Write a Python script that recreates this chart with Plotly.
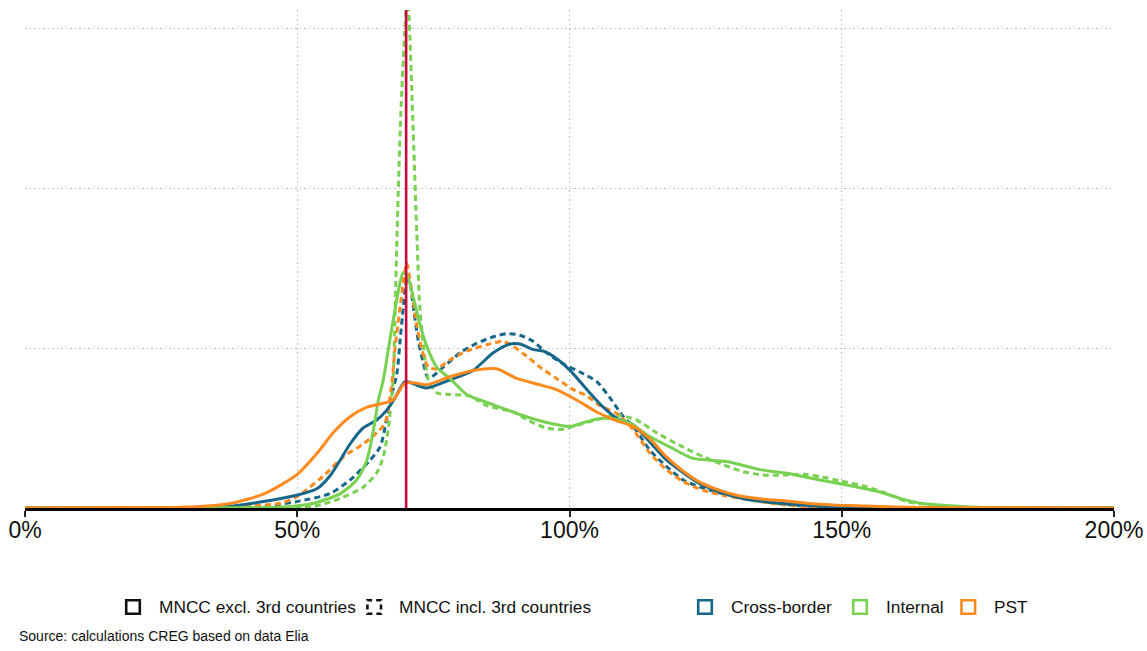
import plotly.graph_objects as go

# ---------------- data (x in %, y = density, arbitrary units) ----------------
cb_excl_x = [0, 30, 37.6, 43.8, 49.9, 53.6, 56, 57.9, 59.7, 62.1, 64.6, 66.4, 68, 69.8, 72.5, 73.8, 78, 82.3, 86, 89.1,
             90.9, 93.4, 95.2, 97.6, 100.1, 103.2, 106.2, 108.7, 111.7, 114.8, 117.8, 120.9, 124, 127.6, 132.5, 137.4,
             142.3, 148, 160, 200]
cb_excl_y = [0, 0.003, 0.01, 0.04, 0.08, 0.12, 0.2, 0.3, 0.40, 0.50, 0.55, 0.61, 0.69, 0.79, 0.76, 0.75, 0.80, 0.86, 0.97,
             1.025, 1.025, 0.99, 0.98, 0.935, 0.86, 0.74, 0.63, 0.56, 0.52, 0.41, 0.30, 0.22, 0.15, 0.10, 0.055, 0.035,
             0.02, 0.008, 0.002, 0]

int_excl_x = [0, 40, 48.7, 53, 57.9, 60.9, 62.8, 64, 64.9, 65.8, 67, 68.6, 69.4, 70.2, 71.3, 72.5, 73.8, 75.6, 78, 81.1,
              83.6, 87.2, 92.1, 96.4, 100.1, 103.2, 105.6, 108.7, 111.1, 114.8, 118.5, 122.7, 128.9, 135, 139.9, 146,
              150.9, 157, 160.7, 164.4, 168, 175, 200]
int_excl_y = [0, 0.001, 0.01, 0.03, 0.09, 0.175, 0.3, 0.49, 0.675, 0.8, 1.05, 1.36, 1.47, 1.45, 1.32, 1.15, 1.01, 0.88,
              0.81, 0.71, 0.675, 0.63, 0.57, 0.53, 0.51, 0.54, 0.56, 0.555, 0.53, 0.445, 0.38, 0.31, 0.29, 0.24, 0.217,
              0.175, 0.144, 0.10, 0.06, 0.03, 0.019, 0.005, 0]

pst_excl_x = [0, 25, 32, 38, 44, 50, 53.6, 56.6, 59.7, 62.8, 65.2, 67.6, 69.8, 72, 73.8, 78, 82.3, 86.6, 90.3, 94.6,
              97.6, 101.3, 105, 108.7, 111.7, 114.8, 117.8, 120.9, 124, 127.6, 131.3, 136.2, 139.9, 143.6, 148.4,
              154.6, 160, 168, 200]
pst_excl_y = [0, 0.003, 0.01, 0.03, 0.09, 0.21, 0.34, 0.47, 0.57, 0.63, 0.65, 0.675, 0.78, 0.78, 0.77, 0.82, 0.86, 0.87,
              0.81, 0.77, 0.74, 0.675, 0.60, 0.545, 0.51, 0.43, 0.32, 0.23, 0.16, 0.11, 0.075, 0.053, 0.044, 0.03,
              0.019, 0.012, 0.006, 0.002, 0]

cb_incl_x = [0, 35, 43.8, 49.9, 56, 59.7, 63.4, 65.2, 66.1, 67, 68.3, 68.9, 69.5, 70.1, 70.7, 71.3, 72.2, 73.2, 74.1,
             76.8, 79.9, 83, 86, 88.5, 90.9, 93.4, 95.8, 98.9, 101.9, 105, 107.4, 109.9, 111.7, 114.8, 117.8, 120.9,
             124, 127, 130.7, 135.6, 140.5, 148, 200]
cb_incl_y = [0, 0.002, 0.01, 0.04, 0.09, 0.175, 0.3, 0.38, 0.50, 0.66, 0.84, 1.05, 1.26, 1.42, 1.40, 1.26, 1.05, 0.90,
             0.81, 0.88, 0.97, 1.03, 1.07, 1.09, 1.08, 1.04, 0.97, 0.90, 0.85, 0.79, 0.69, 0.57, 0.51, 0.36, 0.26, 0.175,
             0.13, 0.10, 0.07, 0.04, 0.02, 0.005, 0]

int_incl_x = [0, 45, 53, 57.9, 62.1, 64.6, 65.8, 66.7, 67.6, 68, 68.3, 69.0, 69.8, 70.2, 70.5, 71.2, 72.0, 72.5, 73.2,
              74.1, 75.6, 78, 81.7, 84.8, 89.7, 93.4, 95.8, 98.3, 100.7, 103.8, 108.7, 112.3, 116, 120.9, 124.6, 128.2,
              131.9, 135.6, 139.3, 143.6, 146, 149.7, 154.6, 158.3, 162, 166.2, 172, 200]
int_incl_y = [0, 0.002, 0.01, 0.06, 0.13, 0.22, 0.32, 0.49, 0.80, 1.26, 1.675, 2.45, 3.01, 3.2, 3.09, 2.45, 1.675, 1.26,
              1.01, 0.80, 0.72, 0.71, 0.70, 0.64, 0.60, 0.53, 0.50, 0.49, 0.51, 0.54, 0.58, 0.55, 0.47, 0.38, 0.32, 0.27,
              0.227, 0.206, 0.206, 0.21, 0.196, 0.17, 0.133, 0.09, 0.04, 0.02, 0.005, 0]

pst_incl_x = [0, 30, 40, 46.8, 49.9, 54.8, 58.5, 62.1, 64.6, 66.1, 67.3, 68, 68.9, 70.1, 71, 71.9, 72.9, 74.1, 75.6, 78,
              81.1, 84.8, 87.8, 89.7, 92.1, 94.6, 97.6, 100.7, 103.2, 105.6, 108.7, 111.7, 114.8, 117.8, 120.9, 124.6,
              128.2, 133.1, 139.3, 146, 200]
pst_incl_y = [0, 0.002, 0.01, 0.03, 0.07, 0.2, 0.32, 0.40, 0.47, 0.53, 0.76, 1.01, 1.26, 1.53, 1.36, 1.15, 0.99, 0.88,
              0.87, 0.925, 0.98, 1.02, 1.04, 1.01, 0.95, 0.88, 0.81, 0.74, 0.70, 0.64, 0.59, 0.49, 0.34, 0.24, 0.165,
              0.11, 0.08, 0.05, 0.02, 0.006, 0]

threshold = 70
x_ticks = [0, 50, 100, 150, 200]
x_tick_labels = ["0%", "50%", "100%", "150%", "200%"]
y_grid = [1, 2, 3]

legend_types = ["MNCC excl. 3rd countries", "MNCC incl. 3rd countries"]
legend_groups = ["Cross-border", "Internal", "PST"]
source_text = "Source: calculations CREG based on data Elia"

# ---------------- styles ----------------
BLUE = "#17678B"
GREEN = "#79D152"
ORANGE = "#FF8A1E"
RED = "#C80A3C"
DASH = "6px,4px"
LW = 3.0

W, H = 1147, 651
ML, MR, MT, MB = 25, 33, 10, 143
PW, PH = W - ML - MR, H - MT - MB


def px_x(p):
    return (p - ML) / PW


def px_y(p):
    return (H - MB - p) / PH


fig = go.Figure()

series = [
    (cb_incl_x, cb_incl_y, BLUE, DASH),
    (int_incl_x, int_incl_y, GREEN, DASH),
    (pst_incl_x, pst_incl_y, ORANGE, DASH),
    (cb_excl_x, cb_excl_y, BLUE, "solid"),
    (int_excl_x, int_excl_y, GREEN, "solid"),
    (pst_excl_x, pst_excl_y, ORANGE, "solid"),
]
for xs, ys, col, dash in series:
    fig.add_trace(go.Scatter(
        x=xs, y=ys, mode="lines",
        line=dict(color=col, width=LW, dash=dash, shape="spline", smoothing=0.7),
        showlegend=False, hoverinfo="skip",
    ))

# threshold line
fig.add_shape(type="line", xref="x", yref="y domain", x0=threshold, x1=threshold, y0=0, y1=1,
              line=dict(color=RED, width=2.6), layer="above")

# manual legend
FONT = "Liberation Sans, Arial, sans-serif"
leg_y = 607
half = 6.8
legend_items = [
    (133, "#111111", "solid", legend_types[0], 156.7),
    (374.2, "#111111", "5px,4px", legend_types[1], 396.7),
    (705, BLUE, "solid", legend_groups[0], 729.3),
    (860, GREEN, "solid", legend_groups[1], 884),
    (968.3, ORANGE, "solid", legend_groups[2], 991.7),
]
for cx, col, dash, label, tx in legend_items:
    fig.add_shape(type="rect", xref="paper", yref="paper",
                  x0=px_x(cx - half), x1=px_x(cx + half), y0=px_y(leg_y + half), y1=px_y(leg_y - half),
                  line=dict(color=col, width=2.6, dash=dash), fillcolor="rgba(0,0,0,0)")
    fig.add_annotation(xref="paper", yref="paper", x=px_x(tx), y=px_y(leg_y), text=label,
                       showarrow=False, xanchor="left", yanchor="middle",
                       font=dict(family=FONT, size=17.3, color="#111111"))

fig.add_annotation(xref="paper", yref="paper", x=px_x(17), y=px_y(636), text=source_text,
                   showarrow=False, xanchor="left", yanchor="middle",
                   font=dict(family=FONT, size=14, color="#111111"))

fig.update_layout(
    width=W, height=H,
    margin=dict(l=ML, r=MR, t=MT, b=MB, autoexpand=False),
    paper_bgcolor="white", plot_bgcolor="white",
    showlegend=False,
    xaxis=dict(
        range=[0, 200], tickvals=x_ticks, ticktext=x_tick_labels,
        showline=True, linecolor="black", linewidth=3,
        ticks="outside", ticklen=6, tickwidth=2, tickcolor="#222222",
        showgrid=True, gridcolor="#BDBDBD", griddash="1.5px,3px", gridwidth=1.3,
        zeroline=False, automargin=False, ticklabeloverflow="allow",
        ticklabelstandoff=-7,
        tickfont=dict(family=FONT, size=23, color="#111111"),
    ),
    yaxis=dict(
        range=[0, (H - MB - MT) / 160], tickvals=y_grid, showticklabels=False,
        showgrid=True, gridcolor="#BDBDBD", griddash="1.5px,3px", gridwidth=1.3,
        zeroline=False, showline=False, ticks="", automargin=False,
    ),
)

fig.write_html("out.html")
